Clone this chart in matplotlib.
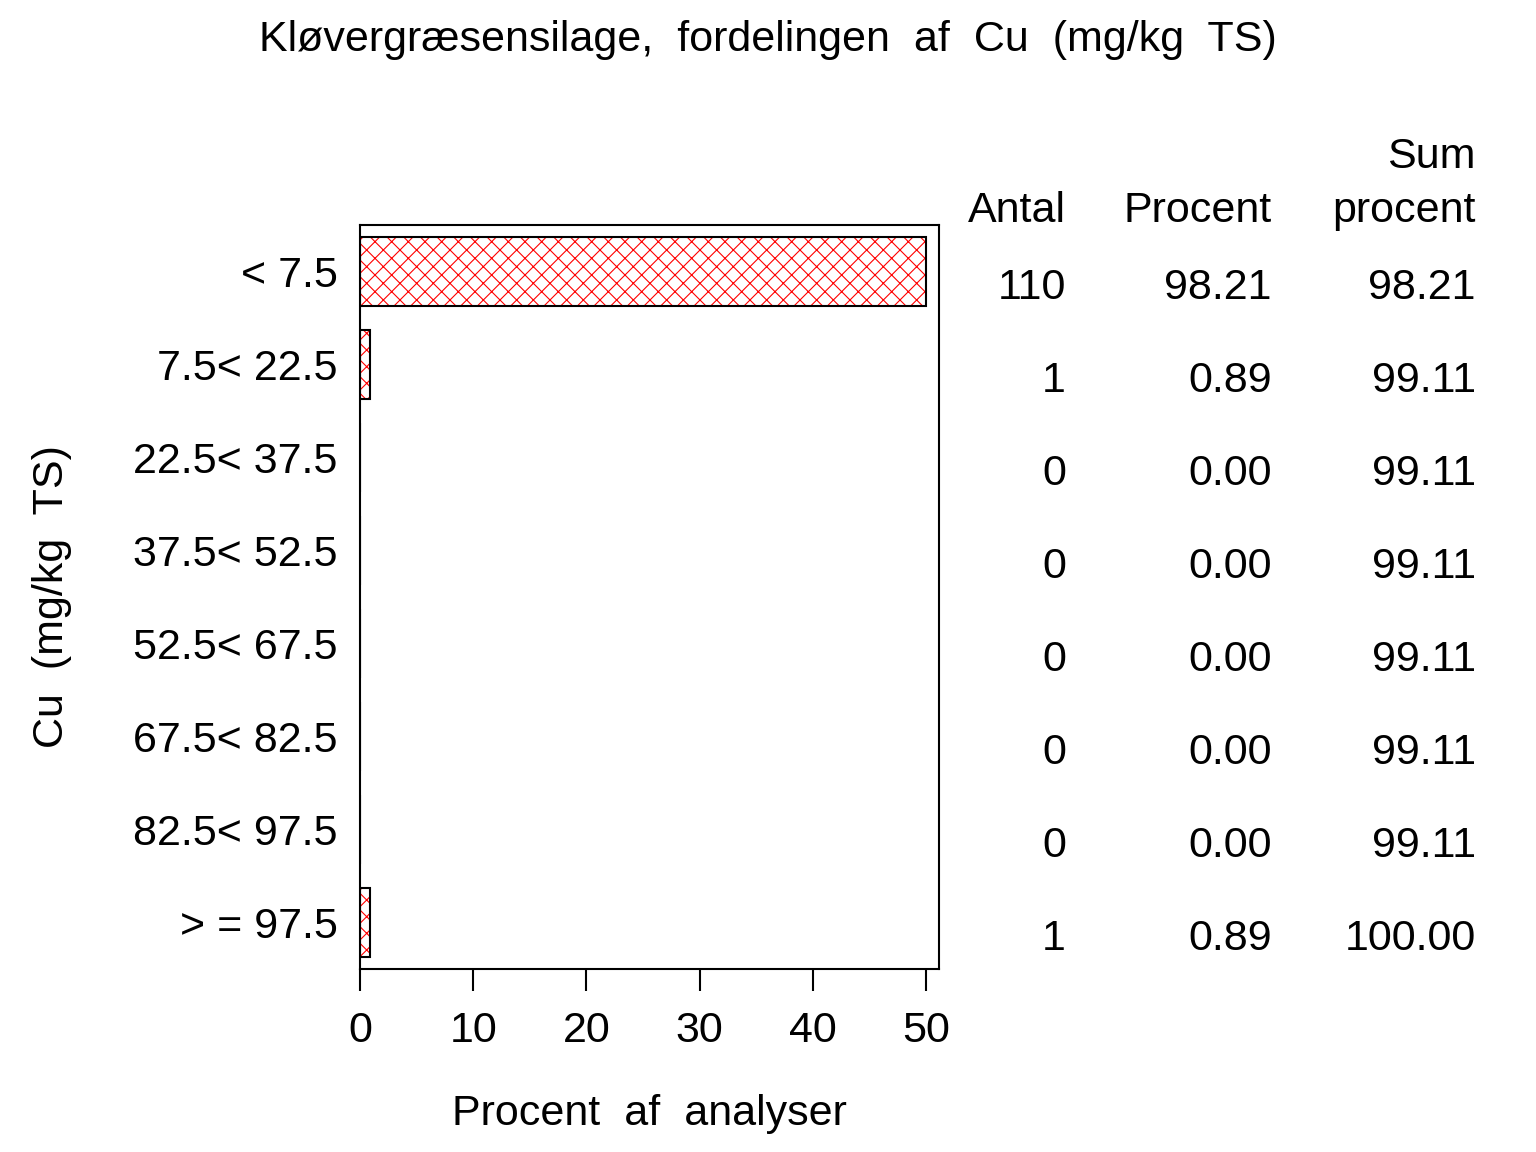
import numpy as np
import matplotlib.pyplot as plt
from matplotlib.transforms import blended_transform_factory

plt.rcParams['font.family'] = ['Liberation Sans', 'DejaVu Sans']
plt.rcParams['hatch.color'] = 'red'
plt.rcParams['hatch.linewidth'] = 0.8

kategorier = ['< 7.5', '7.5< 22.5', '22.5< 37.5', '37.5< 52.5',
              '52.5< 67.5', '67.5< 82.5', '82.5< 97.5', '> = 97.5']
antal = [110, 1, 0, 0, 0, 0, 0, 1]
procent = [98.21, 0.89, 0.00, 0.00, 0.00, 0.00, 0.00, 0.89]
sum_procent = [98.21, 99.11, 99.11, 99.11, 99.11, 99.11, 99.11, 100.00]
xticks = [0, 10, 20, 30, 40, 50]

fs = 31
fig = plt.figure(figsize=(15.36, 11.52), dpi=100)
ax = fig.add_axes([0.2344, 0.1589, 0.3769, 0.6458])

y = np.arange(len(kategorier))
bredde = np.minimum(procent, 50)
ax.barh(y, bredde, height=0.75, facecolor='white', edgecolor='red',
        hatch='xx', linewidth=0)
ax.barh(y, bredde, height=0.75, fill=False, edgecolor='black', linewidth=1.5)

ax.set_xlim(0, 51.15)
ax.set_ylim(len(kategorier) - 0.5, -0.5)
ax.set_xticks(xticks)
ax.set_xticklabels([str(t) for t in xticks], fontsize=fs)
ax.set_yticks(y)
ax.set_yticklabels(kategorier, fontsize=fs)
ax.tick_params(axis='y', length=0, pad=16)
ax.tick_params(axis='x', length=16, width=1.5, pad=14, direction='out')
for s in ax.spines.values():
    s.set_linewidth(1.5)

ax.set_xlabel('Procent  af  analyser', fontsize=fs, labelpad=31)
ax.set_ylabel('Cu  (mg/kg  TS)', fontsize=fs, labelpad=44)

fig.text(0.5, 0.965, 'Kløvergræsensilage,  fordelingen  af  Cu  (mg/kg  TS)',
         ha='center', va='center', fontsize=fs)

tr = blended_transform_factory(fig.transFigure, ax.transData)
kol_x = [1066 / 1536, 1272 / 1536, 1476 / 1536]
fig.text(kol_x[2], 1 - 157 / 1152, 'Sum', ha='right', va='center', fontsize=fs)
for xx, h in zip(kol_x, ['Antal', 'Procent', 'procent']):
    fig.text(xx, 1 - 211 / 1152, h, ha='right', va='center', fontsize=fs)

for i in range(len(kategorier)):
    yy = i + 0.18
    ax.text(kol_x[0], yy, str(antal[i]), transform=tr, ha='right', va='center', fontsize=fs)
    ax.text(kol_x[1], yy, f'{procent[i]:.2f}', transform=tr, ha='right', va='center', fontsize=fs)
    ax.text(kol_x[2], yy, f'{sum_procent[i]:.2f}', transform=tr, ha='right', va='center', fontsize=fs)

fig.savefig('out.png', dpi=100)
